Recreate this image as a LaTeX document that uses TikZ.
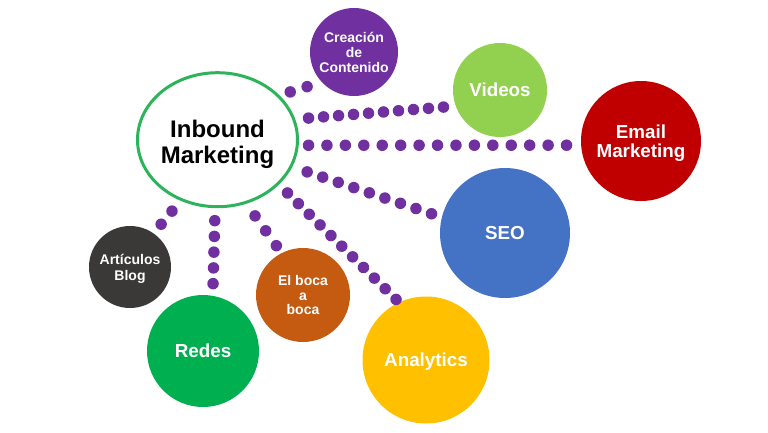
\documentclass[tikz,border=0pt]{standalone}
\usepackage{fontspec}
\setmainfont{Liberation Sans}
\usetikzlibrary{shapes.geometric}
\definecolor{ringgreen}{HTML}{2DB45A}
\definecolor{dotpurple}{HTML}{7030A0}
\definecolor{lightgreen}{HTML}{92D050}
\definecolor{darkred}{HTML}{C00000}
\definecolor{seoblue}{HTML}{4472C4}
\definecolor{gold}{HTML}{FFC000}
\definecolor{rust}{HTML}{C55A11}
\definecolor{leafgreen}{HTML}{00B050}
\definecolor{charcoal}{HTML}{3B3838}

\begin{document}
\begin{tikzpicture}[
      x=1pt, y=-1pt,
      hub/.style={ellipse, draw=ringgreen, line width=3pt, fill=white, minimum width=160pt, minimum height=134pt, inner xsep=-3pt, inner ysep=0pt, outer sep=0pt, align=center, text height=48.5pt, text depth=0pt, font=\fontsize{24}{26}\selectfont\bfseries},
      bubble/.style={circle, text=white, inner sep=0pt, outer sep=0pt, align=center, text depth=0pt},
      big_font/.style={font=\fontsize{18.8}{19.5}\selectfont\bfseries},
      small_font/.style={font=\fontsize{14}{15}\selectfont\bfseries},
      dotline/.style={draw=dotpurple, line width=11.5pt, line cap=round, dash pattern=on 0pt off #1}
  ]
  \useasboundingbox (0,0) rectangle (768,432);

  \node [hub] (main) at (217.5,139.7) {Inbound\\Marketing};
  \node [bubble, small_font, fill=dotpurple, minimum size=88pt] (creacion) at (354,52) {Creación\\de\\Contenido};
  \node [bubble, big_font, fill=lightgreen, minimum size=94pt] (videos) at (500,90) {Videos};
  \node [bubble, big_font, fill=darkred, minimum size=120pt] (email) at (641,141) {Email\\Marketing};
  \node [bubble, big_font, fill=seoblue, minimum size=130pt] (seo) at (505,233) {SEO};
  \node [bubble, big_font, fill=gold, minimum size=127pt] (analytics) at (426,360) {Analytics};
  \node [bubble, small_font, fill=rust, minimum size=94pt, font=\fontsize{14}{14.3}\selectfont\bfseries] (boca) at (303,295) {El boca\\a\\boca};
  \node [bubble, big_font, fill=leafgreen, minimum size=112pt] (redes) at (203,351) {Redes};
  \node [bubble, small_font, fill=charcoal, minimum size=82pt, font=\fontsize{14}{16}\selectfont\bfseries] (blog) at (130,267) {Artículos\\Blog};

  \path [dotline=17.7pt, shorten <=12.9pt, shorten >=10pt] (main.36) -- (creacion.223);
  \path [dotline=15.04pt, shorten <=14.9pt, shorten >=7pt] (main.15) -- (videos.200);
  \path [dotline=18.43pt, shorten <=11.3pt, shorten >=8pt] (main.-4) -- (email.184);
  \path [dotline=16.4pt, shorten <=17.2pt, shorten >=5pt] (main.-20) -- (seo.166);
  \path [dotline=15.2pt, shorten <=13.4pt, shorten >=-3pt] (main.-36) -- (analytics.115);
  \path [dotline=18.3pt, shorten <=16.5pt, shorten >=2pt] (main.-66) -- (boca.117);
  \path [dotline=15.75pt, shorten <=14pt, shorten >=4pt] (main.-92) -- (redes.80);
  \path [dotline=17pt, shorten <=15pt, shorten >=4pt] (main.-121) -- (blog.55);

\end{tikzpicture}
\end{document}
